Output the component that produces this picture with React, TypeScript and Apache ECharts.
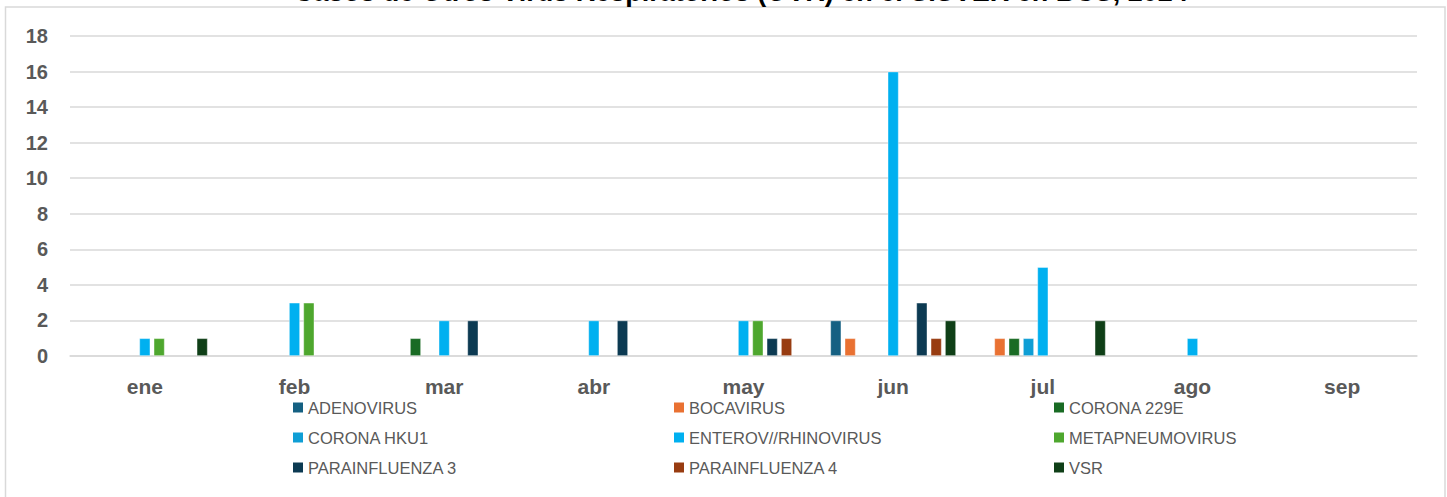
import React, { useEffect, useRef } from "react";
import * as echarts from "echarts";

const TITLE = "Casos de Otros Virus Respiratorios (OVR) en el SISVER en BCS, 2024";
const months = ["ene", "feb", "mar", "abr", "may", "jun", "jul", "ago", "sep"];
const seriesNames = [
  "ADENOVIRUS",
  "BOCAVIRUS",
  "CORONA 229E",
  "CORONA HKU1",
  "ENTEROV//RHINOVIRUS",
  "METAPNEUMOVIRUS",
  "PARAINFLUENZA 3",
  "PARAINFLUENZA 4",
  "VSR",
];
const seriesColors = [
  "#156082",
  "#E97132",
  "#196B24",
  "#0F9ED5",
  "#00B0F0",
  "#4EA72E",
  "#0C3A52",
  "#983C11",
  "#0F3F17",
];
// values per month (ene..sep), null = no bar
const adenovirus = [null, null, null, null, null, 2, null, null, null];
const bocavirus = [null, null, null, null, null, 1, 1, null, null];
const corona229e = [null, null, 1, null, null, null, 1, null, null];
const coronaHku1 = [null, null, null, null, null, null, 1, null, null];
const enterovirus = [1, 3, 2, 2, 2, 16, 5, 1, null];
const metapneumovirus = [1, 3, null, null, 2, null, null, null, null];
const parainfluenza3 = [null, null, 2, 2, 1, 3, null, null, null];
const parainfluenza4 = [null, null, null, null, 1, 1, null, null, null];
const vsr = [1, null, null, null, null, 2, 2, null, null];
const seriesData = [
  adenovirus,
  bocavirus,
  corona229e,
  coronaHku1,
  enterovirus,
  metapneumovirus,
  parainfluenza3,
  parainfluenza4,
  vsr,
];
const yTicks = { min: 0, max: 18, interval: 2 };

const FONT = "Liberation Sans, Arial, sans-serif";

export default function App() {
  const ref = useRef<HTMLDivElement>(null);
  useEffect(() => {
    if (!ref.current) return;
    const chart = echarts.init(ref.current, null, { renderer: "svg" });
    const legendText = { color: "#595959", fontSize: 16.5, fontFamily: FONT };
    const mkLegend = (idx: number[], left: number) => ({
      orient: "vertical",
      left,
      top: 399,
      padding: 0,
      itemWidth: 10,
      itemHeight: 10,
      itemGap: 13,
      itemTextGap: 5,
      icon: "rect",
      selectedMode: false,
      itemStyle: { borderWidth: 0 },
      textStyle: legendText,
      data: idx.map((i) => seriesNames[i]),
    });
    chart.setOption({
      animation: false,
      graphic: [
        {
          type: "rect",
          shape: { x: 5.5, y: 7, width: 1439.5, height: 500 },
          style: { fill: "none", stroke: "#d9d9d9", lineWidth: 1.5 },
          silent: true,
        },
        {
          type: "text",
          x: 741,
          y: -22,
          silent: true,
          style: {
            text: TITLE,
            textAlign: "center",
            textVerticalAlign: "top",
            fontSize: 27,
            fontWeight: "bold",
            fill: "#000",
            fontFamily: FONT,
          },
        },
      ],
      legend: [mkLegend([0, 3, 6], 293), mkLegend([1, 4, 7], 674), mkLegend([2, 5, 8], 1054)],
      grid: { left: 70, right: 30, top: 36, bottom: 141, containLabel: false },
      xAxis: {
        type: "category",
        data: months,
        axisLine: { lineStyle: { color: "#d9d9d9", width: 1.5 } },
        axisTick: { show: false },
        axisLabel: {
          color: "#595959",
          fontSize: 21,
          fontWeight: "bold",
          margin: 20,
          fontFamily: FONT,
        },
      },
      yAxis: {
        type: "value",
        min: yTicks.min,
        max: yTicks.max,
        interval: yTicks.interval,
        axisLine: { show: false },
        axisTick: { show: false },
        splitLine: { lineStyle: { color: "#d9d9d9", width: 1.5 } },
        axisLabel: {
          color: "#595959",
          fontSize: 20,
          fontWeight: "bold",
          margin: 22,
          fontFamily: FONT,
        },
      },
      series: seriesNames.map((name, i) => ({
        name,
        type: "bar",
        data: seriesData[i],
        barGap: "30%",
        barCategoryGap: "16%",
        itemStyle: {
          color: seriesColors[i],
          borderColor: "rgba(255,255,255,0.5)",
          borderWidth: 0.75,
        },
        emphasis: { disabled: true },
      })),
    });
    return () => chart.dispose();
  }, []);
  return (
    <div
      ref={ref}
      style={{ position: "fixed", left: 0, top: 0, width: 1447, height: 497, background: "#fff" }}
    />
  );
}
